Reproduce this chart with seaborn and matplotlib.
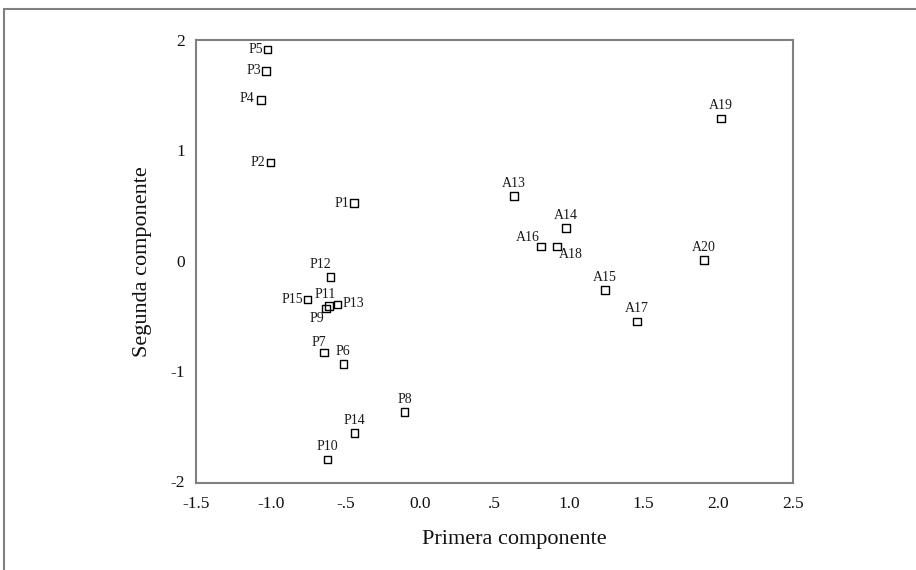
import matplotlib
matplotlib.use("Agg")
import matplotlib.pyplot as plt
import seaborn as sns
import pandas as pd
from matplotlib.patches import Rectangle

labels = ["P1", "P2", "P3", "P4", "P5", "P6", "P7", "P8", "P9", "P10",
          "P11", "P12", "P13", "P14", "P15",
          "A13", "A14", "A15", "A16", "A17", "A18", "A19", "A20"]
primera = [-0.44, -1.00, -1.03, -1.065, -1.02, -0.513, -0.643, -0.104, -0.629, -0.618,
           -0.609, -0.598, -0.553, -0.437, -0.752,
           0.63, 0.979, 1.242, 0.811, 1.453, 0.917, 2.017, 1.904]
segunda = [0.521, 0.888, 1.719, 1.454, 1.915, -0.939, -0.834, -1.376, -0.436, -1.804,
           -0.413, -0.151, -0.397, -1.563, -0.352,
           0.587, 0.295, -0.268, 0.129, -0.551, 0.129, 1.289, 0.003]

x_ticks = [-1.5, -1.0, -0.5, 0.0, 0.5, 1.0, 1.5, 2.0, 2.5]
x_ticklabels = ["-1.5", "-1.0", "-.5", "0.0", ".5", "1.0", "1.5", "2.0", "2.5"]
y_ticks = [-2, -1, 0, 1, 2]
y_ticklabels = ["-2", "-1", "0", "1", "2"]

# label placement: (dx, dy) in pixels, ha, va
place = {
    "P1": (-5, 0, "right", "center"), "P2": (-5, 0, "right", "center"),
    "P3": (-5, 0, "right", "center"), "P4": (-7, 2, "right", "center"),
    "P5": (-4, 0, "right", "center"), "P15": (-4, 0, "right", "center"),
    "P13": (5, 1, "left", "center"), "P11": (-4, 5, "center", "bottom"),
    "P9": (-2, -3, "right", "top"), "A18": (2, -2, "left", "top"),
    "A16": (-1, 2, "right", "bottom"), "P12": (-10, 6, "center", "bottom"),
    "P7": (-5, 4, "center", "bottom"),
}
default_place = (0, 6, "center", "bottom")

sns.set_theme(style="white")
plt.rcParams["font.family"] = ["Liberation Serif", "DejaVu Serif"]

df = pd.DataFrame({"label": labels, "x": primera, "y": segunda})

fig = plt.figure(figsize=(9.16, 5.70), dpi=100)
ax = fig.add_axes([196 / 916, 1 - 483.3 / 570, (793 - 196) / 916, (483.3 - 40) / 570])

sns.scatterplot(data=df, x="x", y="y", ax=ax, marker="s", s=30,
                facecolors="none", edgecolor="black", linewidth=1.0, zorder=3)

for lab, xv, yv in zip(labels, primera, segunda):
    dx, dy, ha, va = place.get(lab, default_place)
    ax.annotate(lab, (xv, yv), xytext=(dx * 0.72, dy * 0.72), textcoords="offset points",
                ha=ha, va=va, fontsize=10, color="#1a1a1a")

ax.set_xlim(-1.5, 2.5)
ax.set_ylim(-2.02, 2.0)
ax.set_xticks(x_ticks)
ax.set_xticklabels(x_ticklabels)
ax.set_yticks(y_ticks)
ax.set_yticklabels(y_ticklabels)
ax.tick_params(axis="both", direction="out", length=3, width=1, color="#808080",
               labelsize=12.5, labelcolor="#111111", pad=5)
ax.tick_params(axis="x", pad=6)

for sp in ax.spines.values():
    sp.set_visible(True)
    sp.set_color("#808080")
    sp.set_linewidth(1.5)

ax.set_xlabel("Primera componente", fontsize=16, color="#111111")
ax.set_ylabel("Segunda componente", fontsize=16, color="#111111")
ax.xaxis.set_label_coords(0.534, -0.105)
ax.yaxis.set_label_coords(-0.074, 0.5)

# outer frame (cropped at right and bottom)
fig.patches.append(Rectangle((4 / 916, -0.2), 1.2, 1.2 - 9 / 570,
                             transform=fig.transFigure, fill=False,
                             edgecolor="#808080", linewidth=1.5))

fig.savefig("out.png", dpi=100)
